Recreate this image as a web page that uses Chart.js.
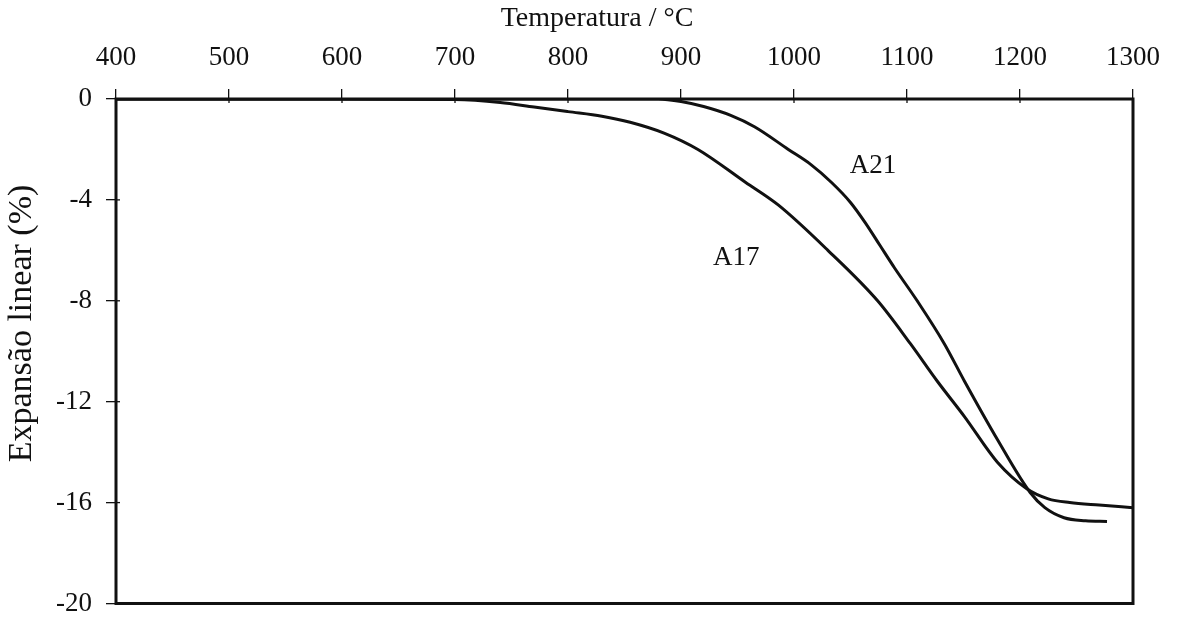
<!DOCTYPE html>
<html>
<head>
<meta charset="utf-8">
<script src="https://cdn.jsdelivr.net/npm/chart.js@4"></script>
<style>
  html, body { margin: 0; padding: 0; background: #fff; }
  #wrap { width: 1178px; height: 621px; }
</style>
</head>
<body>
<div id="wrap"><canvas id="c" width="1178" height="621"></canvas></div>
<script>
// temperatures (°C) and linear expansion (%)
var tempA17 = [400, 600, 700, 740, 770, 800, 830, 855, 885, 915, 957, 986, 1030, 1074, 1103, 1127, 1151, 1180, 1206, 1225, 1244, 1270, 1300];
var expA17  = [0, 0, -0.02, -0.14, -0.32, -0.5, -0.68, -0.92, -1.35, -2.0, -3.3, -4.2, -6.0, -8.0, -9.7, -11.2, -12.6, -14.4, -15.45, -15.85, -16.0, -16.1, -16.2];

var tempA21 = [400, 880, 900, 920, 944, 965, 995, 1015, 1033, 1050, 1063, 1076, 1089, 1109, 1133, 1151, 1180, 1209, 1222, 1239, 1258, 1277];
var expA21  = [0, 0, -0.1, -0.3, -0.65, -1.1, -2.0, -2.6, -3.3, -4.1, -4.9, -5.8, -6.7, -8.0, -9.7, -11.2, -13.5, -15.6, -16.2, -16.6, -16.72, -16.75];

var seriesNames = ['A17', 'A21'];
// where the curve names sit, in data units
var labelPos = [[949, -6.3], [1070, -2.65]];

var xTitle = 'Temperatura / °C';
var yTitle = 'Expansão linear (%)';

var FONT = '"Liberation Serif", "DejaVu Serif", serif';

function points(xs, ys) {
  var out = [];
  for (var i = 0; i < xs.length; i++) out.push({x: xs[i], y: ys[i]});
  return out;
}

var framePlugin = {
  id: 'frame',
  afterDatasetsDraw: function(chart) {
    var a = chart.chartArea, ctx = chart.ctx;
    ctx.save();
    ctx.strokeStyle = '#111';
    ctx.lineWidth = 3;
    ctx.strokeRect(a.left, a.top, a.right - a.left, a.bottom - a.top);
    // short tick stubs inside the frame
    ctx.lineWidth = 1.3;
    var xs = chart.scales.x, ys = chart.scales.y;
    xs.ticks.forEach(function(t) {
      var px = xs.getPixelForValue(t.value);
      ctx.beginPath(); ctx.moveTo(px, a.top); ctx.lineTo(px, a.top + 4); ctx.stroke();
    });
    ys.ticks.forEach(function(t) {
      var py = ys.getPixelForValue(t.value);
      ctx.beginPath(); ctx.moveTo(a.left, py); ctx.lineTo(a.left + 4, py); ctx.stroke();
    });
    ctx.fillStyle = '#111';
    ctx.textAlign = 'center';
    ctx.textBaseline = 'middle';
    // curve names
    ctx.font = '27px ' + FONT;
    for (var i = 0; i < seriesNames.length; i++) {
      ctx.fillText(seriesNames[i], xs.getPixelForValue(labelPos[i][0]), ys.getPixelForValue(labelPos[i][1]));
    }
    // axis titles, sitting a little left / above centre as in the original
    ctx.font = '28px ' + FONT;
    ctx.fillText(xTitle, a.left + (a.right - a.left) * 0.473, 19);
    ctx.save();
    ctx.translate(22, a.top + (a.bottom - a.top) * 0.445);
    ctx.rotate(-Math.PI / 2);
    ctx.font = '34px ' + FONT;
    ctx.fillText(yTitle, 0, 0);
    ctx.restore();
    ctx.restore();
  }
};

var lineStyle = {
  borderColor: '#111',
  borderWidth: 3,
  pointRadius: 0,
  fill: false,
  cubicInterpolationMode: 'monotone'
};

function plain(v) { return String(v); }

new Chart(document.getElementById('c'), {
  type: 'line',
  data: {
    datasets: [
      Object.assign({label: seriesNames[0], data: points(tempA17, expA17)}, lineStyle),
      Object.assign({label: seriesNames[1], data: points(tempA21, expA21)}, lineStyle)
    ]
  },
  options: {
    responsive: false,
    animation: false,
    events: [],
    layout: { padding: { top: 0, right: 45, bottom: 0, left: 0 } },
    plugins: { legend: { display: false }, tooltip: { enabled: false } },
    scales: {
      x: {
        type: 'linear',
        position: 'top',
        min: 400, max: 1300,
        afterFit: function(s) { s.height = 99; },
        border: { display: false },
        grid: { drawOnChartArea: false, drawTicks: true, tickLength: 10, color: '#111', lineWidth: 1.3 },
        ticks: { stepSize: 100, color: '#111', padding: 15, maxRotation: 0, callback: plain, font: { family: FONT, size: 27 } },
        title: { display: false }
      },
      y: {
        type: 'linear',
        min: -20, max: 0,
        afterFit: function(s) { s.width = 116; },
        border: { display: false },
        grid: { drawOnChartArea: false, drawTicks: true, tickLength: 10, color: '#111', lineWidth: 1.3 },
        ticks: { stepSize: 4, color: '#111', padding: 14, callback: plain, font: { family: FONT, size: 27, lineHeight: 0.26 } },
        title: { display: false }
      }
    }
  },
  plugins: [framePlugin]
});
</script>
</body>
</html>
